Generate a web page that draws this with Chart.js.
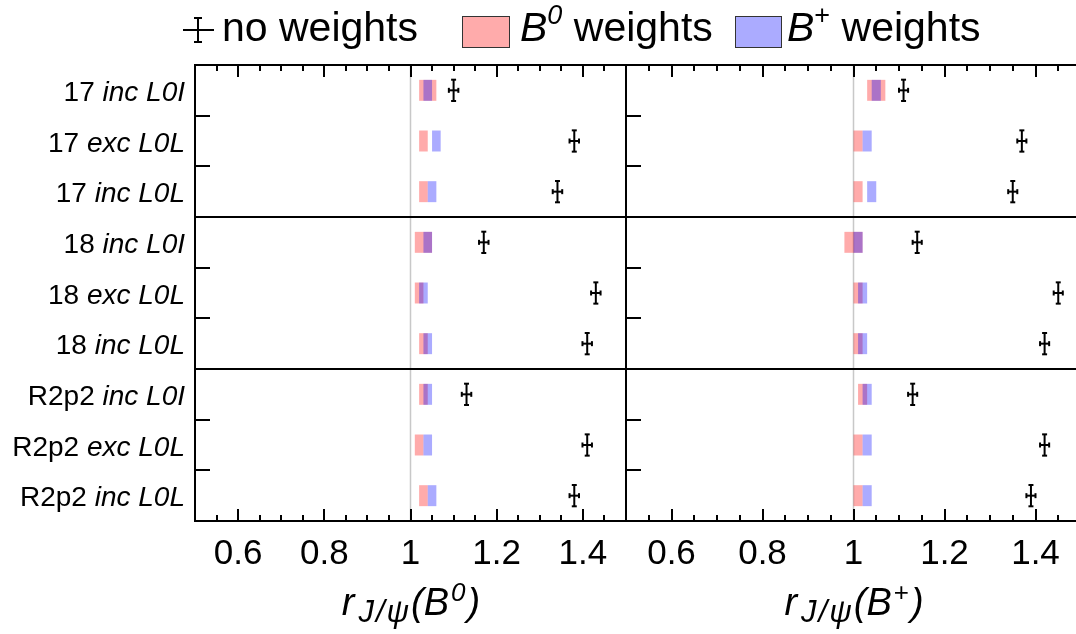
<!DOCTYPE html>
<html>
<head>
<meta charset="utf-8">
<script src="https://cdn.jsdelivr.net/npm/chart.js@4.4.0/dist/chart.umd.min.js"></script>
<style>
  body { margin: 0; background: #fff; }
  #page { position: relative; width: 1076px; height: 634px; overflow: hidden;
          font-family: "Liberation Sans", Arial, sans-serif; color: #000; }
  .wrap { position: absolute; top: 0; height: 634px; }
  .txt { position: absolute; line-height: 1; white-space: nowrap; }
  .sup { position: relative; vertical-align: baseline; }
  .box { position: absolute; box-sizing: border-box; border: 1.5px solid #333; }
</style>
</head>
<body>
<div id="page">
  <div class="wrap" style="left:0; width:627px;"><canvas id="left"></canvas></div>
  <div class="wrap" style="left:626px; width:460px;"><canvas id="right"></canvas></div>

  <!-- legend -->
  <svg style="position:absolute; left:183px; top:17px;" width="32" height="26">
    <g stroke="#000" stroke-width="2">
      <line x1="0" y1="13" x2="31" y2="13"/>
      <line x1="15" y1="1" x2="15" y2="25"/>
      <line x1="11" y1="1" x2="19" y2="1"/>
      <line x1="11" y1="25" x2="19" y2="25"/>
    </g>
  </svg>
  <div class="txt" style="left:222px; top:7px; font-size:41px;">no weights</div>
  <div class="box" style="left:462px; top:16px; width:48px; height:32px; background:rgba(255,0,0,0.33);"></div>
  <div class="txt" style="left:520px; top:7px; font-size:41px;"><i>B</i><i class="sup" style="font-size:27px; top:-17px;">0</i> weights</div>
  <div class="box" style="left:735px; top:16px; width:47px; height:32px; background:rgba(0,0,255,0.33);"></div>
  <div class="txt" style="left:787px; top:7px; font-size:41px;"><i>B</i><span class="sup" style="font-size:27px; top:-17px;">+</span> weights</div>

  <!-- axis titles -->
  <div class="txt" style="left:411px; top:583px; font-size:38px; transform:translateX(-50%);"><i>r</i><i class="sup" style="font-size:31px; top:7px; margin-left:4px; letter-spacing:2px;">J/&psi;</i><i>(B</i><i class="sup" style="font-size:26px; top:-14px; margin-left:2px;">0</i><i style="margin-left:2px;">)</i></div>
  <div class="txt" style="left:854px; top:583px; font-size:38px; transform:translateX(-50%);"><i>r</i><i class="sup" style="font-size:31px; top:7px; margin-left:4px; letter-spacing:2px;">J/&psi;</i><i>(B</i><span class="sup" style="font-size:26px; top:-14px; margin-left:2px;">+</span><i style="margin-left:2px;">)</i></div>
</div>

<script>
const categories = ['17 inc L0I', '17 exc L0L', '17 inc L0L',
                    '18 inc L0I', '18 exc L0L', '18 inc L0L',
                    'R2p2 inc L0I', 'R2p2 exc L0L', 'R2p2 inc L0L'];
const tickValues = [0.6, 0.8, 1, 1.2, 1.4];
const groupEdges = [2.5, 5.5];
const rowEdges = [0.5, 1.5, 3.5, 4.5, 6.5, 7.5];

// r_J/psi(B0)
const noWeightB0 = [1.100, 1.380, 1.341, 1.170, 1.430, 1.410, 1.130, 1.410, 1.380];
const noWeightB0Err = [0.011, 0.011, 0.011, 0.011, 0.011, 0.011, 0.011, 0.011, 0.011];
const b0WeightB0 = [[1.02, 1.06], [1.02, 1.04], [1.02, 1.04], [1.01, 1.05], [1.01, 1.03],
                    [1.02, 1.04], [1.02, 1.04], [1.01, 1.03], [1.02, 1.04]];
const bpWeightB0 = [[1.03, 1.05], [1.05, 1.07], [1.04, 1.06], [1.03, 1.05], [1.02, 1.04],
                    [1.03, 1.05], [1.03, 1.05], [1.03, 1.05], [1.04, 1.06]];

// r_J/psi(B+)
const noWeightBp = [1.110, 1.370, 1.350, 1.140, 1.450, 1.420, 1.130, 1.420, 1.390];
const noWeightBpErr = [0.010, 0.010, 0.010, 0.010, 0.010, 0.010, 0.010, 0.010, 0.010];
const b0WeightBp = [[1.03, 1.07], [1.00, 1.02], [1.00, 1.02], [0.98, 1.02], [1.00, 1.02],
                    [1.00, 1.02], [1.01, 1.03], [1.00, 1.02], [1.00, 1.02]];
const bpWeightBp = [[1.04, 1.06], [1.02, 1.04], [1.03, 1.05], [1.00, 1.02], [1.01, 1.03],
                    [1.01, 1.03], [1.02, 1.04], [1.02, 1.04], [1.02, 1.04]];

const FONT = '"Liberation Sans", Arial, sans-serif';

function line(ctx, x1, y1, x2, y2) {
  ctx.beginPath();
  ctx.moveTo(x1, y1);
  ctx.lineTo(x2, y2);
  ctx.stroke();
}

function panelPlugin(values, errors, drawLabels) {
  return {
    id: 'panel',
    beforeDatasetsDraw(chart) {
      const { ctx, chartArea: a, scales: { x } } = chart;
      const p = x.getPixelForValue(1);
      ctx.save();
      ctx.strokeStyle = '#c8c8c8';
      ctx.lineWidth = 1.5;
      line(ctx, p, a.top, p, a.bottom);
      ctx.restore();
    },
    afterDatasetsDraw(chart) {
      const { ctx, chartArea: a, scales: { x, y } } = chart;
      ctx.save();
      ctx.strokeStyle = '#000';
      ctx.lineWidth = 2;

      // error bars of the unweighted result
      values.forEach((v, i) => {
        const cx = x.getPixelForValue(v);
        const cy = y.getPixelForValue(i);
        const xl = x.getPixelForValue(v - errors[i]);
        const xr = x.getPixelForValue(v + errors[i]);
        const yt = y.getPixelForValue(i - 0.21);
        const yb = y.getPixelForValue(i + 0.21);
        line(ctx, xl, cy, xr, cy);
        line(ctx, cx, yt, cx, yb);
        line(ctx, xl, cy - 2.5, xl, cy + 2.5);
        line(ctx, xr, cy - 2.5, xr, cy + 2.5);
        line(ctx, cx - 2.5, yt, cx + 2.5, yt);
        line(ctx, cx - 2.5, yb, cx + 2.5, yb);
      });

      groupEdges.forEach(v => {
        const py = Math.round(y.getPixelForValue(v));
        line(ctx, a.left, py, a.right, py);
      });
      rowEdges.forEach(v => {
        const py = Math.round(y.getPixelForValue(v));
        line(ctx, a.left, py, a.left + 15, py);
      });

      // ticks every 0.05, longer ones on the labelled values
      for (let k = 11; k < 30; k++) {
        const px = Math.round(x.getPixelForValue(k * 0.05));
        const len = k % 4 === 0 ? 12 : 6;
        line(ctx, px, a.top, px, a.top + len);
        line(ctx, px, a.bottom, px, a.bottom - len);
      }

      ctx.strokeRect(a.left, a.top, a.right - a.left, a.bottom - a.top);

      if (drawLabels) {
        ctx.fillStyle = '#000';
        ctx.textBaseline = 'alphabetic';
        categories.forEach((lab, i) => {
          const cut = lab.indexOf(' ');
          const head = lab.slice(0, cut + 1);
          const tail = lab.slice(cut + 1);
          const py = y.getPixelForValue(i) + 10.5;
          ctx.font = 'italic 28px ' + FONT;
          const wTail = ctx.measureText(tail).width;
          ctx.textAlign = 'right';
          ctx.fillText(tail, 185, py);
          ctx.font = '28px ' + FONT;
          ctx.fillText(head, 185 - wTail, py);
        });
      }
      ctx.restore();
    }
  };
}

function makePanel(id, values, errors, redBoxes, blueBoxes, isLeft) {
  const points = values.map((v, i) => ({ x: v, y: categories[i] }));
  return new Chart(document.getElementById(id), {
    type: 'bar',
    data: {
      labels: categories,
      datasets: [
        { type: 'scatter', label: 'no weights', data: points, pointRadius: 0, order: 0 },
        { label: 'B+ weights', data: blueBoxes, backgroundColor: 'rgba(0,0,255,0.33)',
          borderWidth: 0, barPercentage: 0.414, categoryPercentage: 1, grouped: false, order: 1 },
        { label: 'B0 weights', data: redBoxes, backgroundColor: 'rgba(255,0,0,0.33)',
          borderWidth: 0, barPercentage: 0.414, categoryPercentage: 1, grouped: false, order: 2 }
      ]
    },
    options: {
      indexAxis: 'y',
      responsive: true,
      maintainAspectRatio: false,
      animation: false,
      layout: { padding: { top: 65, left: 0, right: isLeft ? 1 : 5, bottom: 0 } },
      plugins: { legend: { display: false }, tooltip: { enabled: false } },
      scales: {
        x: {
          type: 'linear',
          min: 0.5,
          max: 1.5,
          grid: { display: false, drawTicks: false },
          border: { display: false },
          afterBuildTicks: s => { s.ticks = tickValues.map(v => ({ value: v })); },
          afterFit: s => { s.height = 113; },
          ticks: {
            color: '#000',
            padding: 12,
            maxRotation: 0,
            autoSkip: false,
            font: { family: FONT, size: 35 },
            callback: v => String(v)
          }
        },
        y: {
          type: 'category',
          labels: categories,
          offset: true,
          display: isLeft,
          grid: { display: false, drawTicks: false },
          border: { display: false },
          ticks: { display: false },
          afterFit: s => { s.width = isLeft ? 195 : 0; }
        }
      }
    },
    plugins: [panelPlugin(values, errors, isLeft)]
  });
}

makePanel('left', noWeightB0, noWeightB0Err, b0WeightB0, bpWeightB0, true);
makePanel('right', noWeightBp, noWeightBpErr, b0WeightBp, bpWeightBp, false);
</script>
</body>
</html>
